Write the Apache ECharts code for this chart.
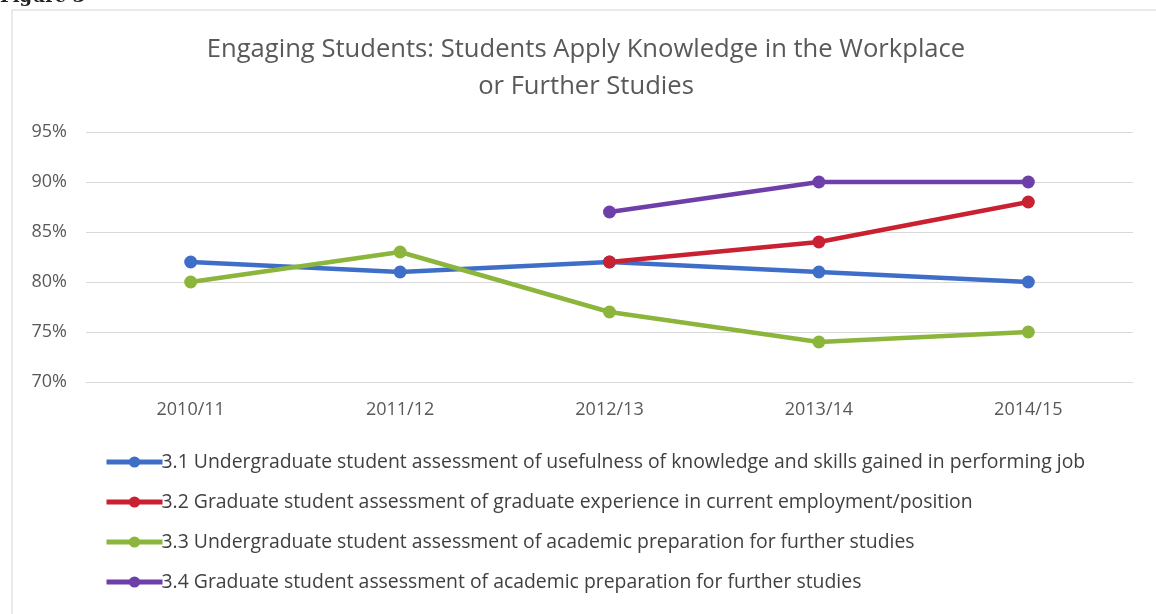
<!DOCTYPE html>
<html>
<head>
<meta charset="utf-8">
<script src="https://cdn.jsdelivr.net/npm/echarts@6/dist/echarts.min.js"></script>
<style>
  html, body { margin: 0; padding: 0; background: #fff; }
  #main { width: 1156px; height: 614px; }
</style>
</head>
<body>
<div id="main"></div>
<script>
var years = ['2010/11', '2011/12', '2012/13', '2013/14', '2014/15'];
var ugUseful = [82, 81, 82, 81, 80];
var gradEmploy = [null, null, 82, 84, 88];
var ugPrep = [80, 83, 77, 74, 75];
var gradPrep = [null, null, 87, 90, 90];
var seriesNames = [
    '3.1 Undergraduate student assessment of usefulness of knowledge and skills gained in performing job',
    '3.2 Graduate student assessment of graduate experience in current employment/position',
    '3.3 Undergraduate student assessment of academic preparation for further studies',
    '3.4 Graduate student assessment of academic preparation for further studies'
];
var colors = ['#3f6ec8', '#c92131', '#8cb53b', '#6f3fa9'];

var myChart = echarts.init(document.getElementById('main'));

function mkSeries(i, data) {
    return {
        name: seriesNames[i],
        type: 'line',
        data: data,
        color: colors[i],
        symbol: 'circle',
        symbolSize: 13,
        lineStyle: { width: 4.5 },
        connectNulls: false
    };
}

var option = {
    textStyle: { fontFamily: 'Open Sans' },
    title: {
        text: 'Engaging Students: Students Apply Knowledge in the Workplace\nor Further Studies',
        left: 581,
        top: 26,
        textAlign: 'center',
        textStyle: { fontSize: 25.6, fontWeight: 'normal', color: '#595959', lineHeight: 37, fontFamily: 'Open Sans' }
    },
    graphic: [
        { type: 'rect', shape: { x: 12, y: 10, width: 1150, height: 610 }, style: { fill: 'none', stroke: '#d4d4d4', lineWidth: 1 } },
        { type: 'text', left: 0, top: -12, style: { text: 'Figure 3', font: 'bold 18px "DejaVu Serif"', fill: '#222' } }
    ],
    legend: {
        orient: 'vertical',
        left: 99,
        top: 446,
        itemWidth: 56,
        itemHeight: 14,
        itemGap: 18,
        lineStyle: { width: 5 },
        textStyle: { fontSize: 19.4, color: '#404040', lineHeight: 22, padding: [0, 0, 0, -6] },
        data: seriesNames
    },
    grid: { left: 86, right: 23, top: 132, bottom: 232, containLabel: false },
    xAxis: {
        type: 'category',
        data: years,
        axisLine: { lineStyle: { color: '#d9d9d9' } },
        axisTick: { show: false },
        axisLabel: { fontSize: 18, color: '#595959', margin: 19 }
    },
    yAxis: {
        type: 'value',
        min: 70,
        max: 95,
        interval: 5,
        axisLabel: { formatter: '{value}%', fontSize: 18, color: '#595959', margin: 19 },
        splitLine: { lineStyle: { color: '#d9d9d9' } }
    },
    series: [
        mkSeries(0, ugUseful),
        mkSeries(1, gradEmploy),
        mkSeries(2, ugPrep),
        mkSeries(3, gradPrep)
    ]
};

myChart.setOption(option);
</script>
</body>
</html>
